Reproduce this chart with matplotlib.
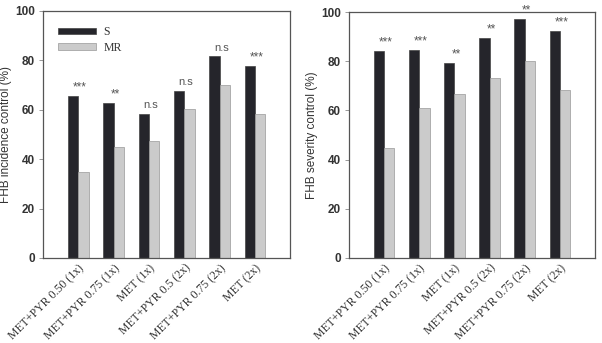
import matplotlib
matplotlib.use("Agg")
import matplotlib.pyplot as plt
import numpy as np

categories = ["MET+PYR 0.50 (1x)", "MET+PYR 0.75 (1x)", "MET (1x)",
              "MET+PYR 0.5 (2x)", "MET+PYR 0.75 (2x)", "MET (2x)"]
inc_S = [65.5, 62.8, 58.3, 67.6, 81.6, 77.6]
inc_MR = [34.7, 44.9, 47.5, 60.3, 70.1, 58.1]
inc_sig = ["***", "**", "n.s", "n.s", "n.s", "***"]
sev_S = [84.2, 84.6, 79.3, 89.4, 97.3, 92.2]
sev_MR = [44.6, 60.8, 66.5, 73.0, 80.1, 68.3]
sev_sig = ["***", "***", "**", "**", "**", "***"]

S_COL = "#25252b"
MR_COL = "#cbcbcb"
SANS = ["Liberation Sans", "DejaVu Sans"]
SERIF = ["Liberation Serif", "DejaVu Serif"]

fig = plt.figure(figsize=(6.02, 3.43), dpi=100)
ax1 = fig.add_axes([0.0714, 0.248, 0.411, 0.720])
ax2 = fig.add_axes([0.580, 0.248, 0.408, 0.717])

w = 0.29
x = np.arange(len(categories))

def draw(ax, s, mr, sig, ylabel, legend=False):
    ax.bar(x - w / 2, s, w, color=S_COL, edgecolor="#444444", linewidth=0.5, label="S")
    ax.bar(x + w / 2, mr, w, color=MR_COL, edgecolor="#999999", linewidth=0.5, label="MR")
    ax.set_xlim(-1, 6)
    ax.set_ylim(0, 100)
    ax.set_yticks([0, 20, 40, 60, 80, 100])
    ax.tick_params(axis="y", direction="out", length=3, width=0.6, color="#888888",
                   labelsize=8.5, pad=3)
    for lab in ax.get_yticklabels():
        lab.set_family(SANS)
        lab.set_fontweight("bold")
        lab.set_color("#333333")
    ax.set_xticks(x)
    ax.set_xticklabels(categories, rotation=45, ha="right", rotation_mode="anchor",
                       family=SERIF, fontsize=8.5, color="#333333")
    ax.tick_params(axis="x", length=0, pad=3)
    ax.set_ylabel(ylabel, family=SANS, fontsize=8.5, color="#333333", labelpad=2)
    for sp in ax.spines.values():
        sp.set_color("#555555")
        sp.set_linewidth(0.9)
    for i, t in enumerate(sig):
        top = max(s[i], mr[i])
        if t == "n.s":
            ax.text(x[i] + 0.05, top + 1.5, t, ha="center", va="bottom",
                    family=SANS, fontsize=8, color="#555555")
        else:
            ax.text(x[i] + 0.05, top + 1.0, t, ha="center", va="bottom",
                    family=SANS, fontsize=8.5, color="#555555")
    if legend:
        leg = ax.legend(loc="upper left", frameon=False, prop={"family": SERIF, "size": 8.5},
                        handlelength=3.2, handleheight=0.5, handletextpad=0.6,
                        labelspacing=0.3, borderaxespad=0.9)
        for t in leg.get_texts():
            t.set_color("#333333")

draw(ax1, inc_S, inc_MR, inc_sig, "FHB incidence control (%)", legend=True)
draw(ax2, sev_S, sev_MR, sev_sig, "FHB severity control (%)")

fig.savefig("out.png", dpi=100)
